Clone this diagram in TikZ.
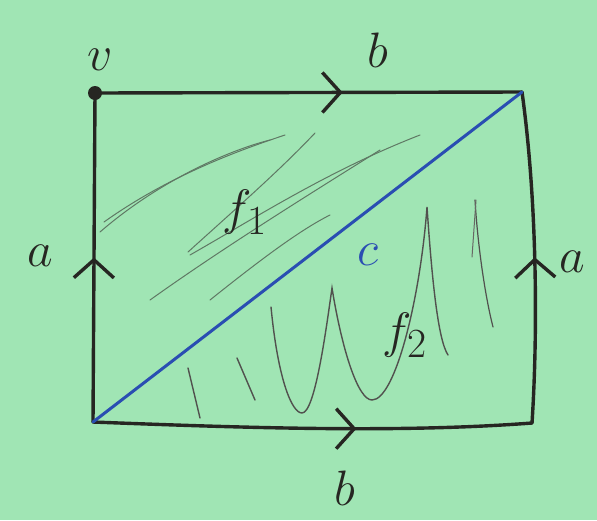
\documentclass[tikz,border=0pt]{standalone}
\usetikzlibrary{decorations.markings,arrows.meta}
\definecolor{paper}{RGB}{160,229,180}
\definecolor{ink}{RGB}{38,38,34}
\definecolor{pen}{RGB}{42,78,178}
\definecolor{pencil}{RGB}{95,120,100}
\tikzset{
    edgeline/.style={draw=ink, line width=1.7pt, line cap=round},
    midmark/.style={postaction={decorate}, decoration={markings,
        mark=at position #1 with {\arrow{Straight Barb[length=9pt,width=20pt]}}}},
    lbl/.style={font=\fontsize{30}{36}\selectfont, text=ink, inner sep=0pt},
    hatch/.style={draw=pencil, line width=0.5pt, line cap=round},
}
\begin{document}
\begin{tikzpicture}[x=0.5pt, y=-0.5pt]
    % paper
    \fill[paper] (0,0) rectangle (597,520);
    \useasboundingbox (0,0) rectangle (597,520);

    % corners of the square
    \coordinate (tl) at (95,93);
    \coordinate (tr) at (522,92);
    \coordinate (br) at (532,423);
    \coordinate (bl) at (93,422);

    % shading of f_1 (upper triangle)
    \draw[hatch] (100,232) .. controls (160,180) and (230,150) .. (270,140);
    \draw[hatch] (104,222) .. controls (170,175) and (240,150) .. (285,135);
    \draw[hatch] (188,252) .. controls (240,205) and (280,170) .. (315,133);
    \draw[hatch] (150,300) .. controls (220,250) and (300,200) .. (380,150);
    \draw[hatch] (190,255) .. controls (260,215) and (330,170) .. (420,135);
    \draw[hatch] (210,300) .. controls (260,260) and (300,230) .. (330,215);

    % shading of f_2 (lower triangle)
    \draw[hatch, draw=ink!80, line width=0.7pt] (188,368) -- (200,418);
    \draw[hatch, draw=ink!80, line width=0.7pt] (237,358) -- (255,400);
    \draw[hatch, draw=ink!80, line width=0.7pt] (271,307)
        .. controls (278,380) and (292,413) .. (302,413)
        .. controls (315,413) and (326,330) .. (332,288)
        .. controls (342,350) and (358,400) .. (372,400)
        .. controls (395,400) and (420,300) .. (427,207)
        .. controls (432,280) and (438,340) .. (448,355);
    \draw[hatch, draw=ink!80, line width=0.6pt] (475,200) .. controls (478,250) and (486,300) .. (493,327);
    \draw[hatch, draw=ink!70, line width=0.5pt] (472,257) -- (476,200);

    % sides of the square
    \draw[edgeline, midmark=0.58] (tl) -- (tr);
    \draw[edgeline, midmark=0.60] (bl) .. controls (250,428) and (400,433) .. (br);
    \draw[edgeline, midmark=0.50] (bl) -- (tl);
    \draw[edgeline, midmark=0.50] (br) .. controls (538,330) and (537,200) .. (tr);

    % diagonal c
    \draw[pen, line width=1.5pt, line cap=round] (bl) -- (tr);

    % vertex v
    \fill[ink] (tl) circle (3.5pt);

    % labels
    \node[lbl] (v) at (100,60) {$v$};
    \node[lbl] (btop) at (378,50) {$b$};
    \node[lbl] (bbot) at (345,488) {$b$};
    \node[lbl] (aleft) at (40,256) {$a$};
    \node[lbl] (aright) at (572,262) {$a$};
    \node[lbl, text=pen] (c) at (368,255) {$c$};
    \node[lbl] (f1) at (245,212) {$f_1$};
    \node[lbl] (f2) at (405,335) {$f_2$};
\end{tikzpicture}
\end{document}
